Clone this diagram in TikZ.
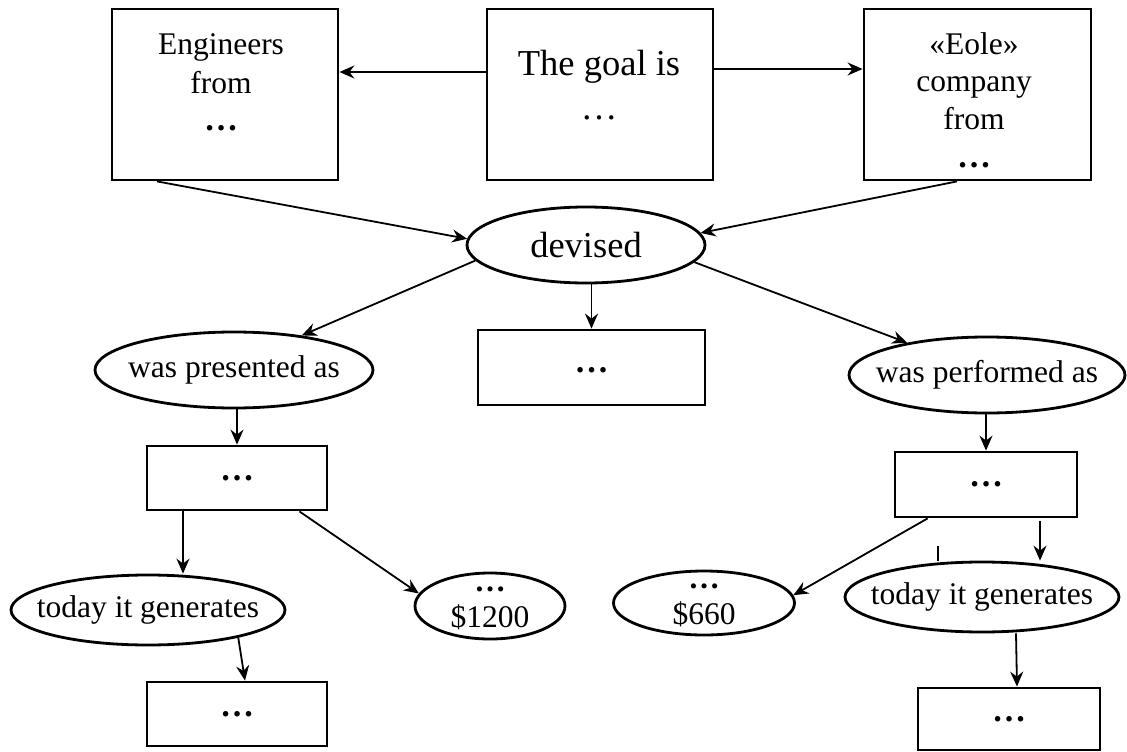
\documentclass[tikz,border=0pt]{standalone}
\usepackage{fontspec}
\setmainfont{Liberation Serif}
\usetikzlibrary{shapes.geometric,arrows.meta,calc}
\begin{document}
\begin{tikzpicture}[x=1pt,y=-1pt,
  every node/.style={font=\fontsize{31.5}{36}\selectfont},
  rbox/.style={draw, line width=2.8pt, rectangle, inner sep=0pt},
  ell/.style={draw, line width=2.8pt, ellipse, inner sep=0pt},
  arr/.style={line width=1.8pt, -{Stealth[length=15pt,width=13pt,inset=5pt]}},
  tickline/.style={line width=1.8pt},
  lbl/.style={anchor=base, inner sep=0pt},
  big/.style={font=\fontsize{36.5}{40}\selectfont},
  dots/.style={font=\fontsize{34}{36}\selectfont\bfseries},
  two/.style={align=center, inner sep=0pt}
]
\useasboundingbox (0,0) rectangle (1127,752);

% top boxes
\node[rbox, minimum width=226pt, minimum height=171pt] (eng) at (225,94.5) {};
\node[rbox, minimum width=226pt, minimum height=171pt] (goal) at (600,94.5) {};
\node[rbox, minimum width=227pt, minimum height=171pt] (eole) at (977.5,94.5) {};

\node[lbl] (engA) at (221,55) {Engineers};
\node[lbl] (engB) at (221,93) {from};
\node[lbl,dots] (engC) at (221,130) {…};

\node[lbl,big] (goalA) at (599,75) {The goal is};
\node[lbl,big] (goalB) at (599,119) {…};

\node[lbl] (eoleA) at (974,55) {«Eole»};
\node[lbl] (eoleB) at (974,92) {company};
\node[lbl] (eoleC) at (974,129) {from};
\node[lbl,dots] (eoleD) at (974,167) {…};

% devised
\node[ell, minimum width=238pt, minimum height=76pt] (dev) at (586,245) {};
\node[big] (devT) at (dev) {devised};

% second row
\node[ell, minimum width=278pt, minimum height=76pt] (pres) at (234,370) {};
\node (presT) at (pres) {was presented as};
\node[rbox, minimum width=227pt, minimum height=75pt] (ctr) at (591.5,367.5) {};
\node[dots] (ctrT) at ([yshift=-3pt]ctr.center) {…};
\node[ell, minimum width=276pt, minimum height=76pt] (perf) at (987,375) {};
\node (perfT) at (perf) {was performed as};

% third row
\node[rbox, minimum width=180pt, minimum height=64pt] (lbox) at (237,478) {};
\node[dots] (lboxT) at (lbox) {…};
\node[rbox, minimum width=182pt, minimum height=65pt] (rbox) at (986,484.5) {};
\node[dots] (rboxT) at (rbox) {…};

% fourth row
\node[ell, minimum width=274pt, minimum height=70pt] (todayL) at (148,610) {};
\node (todayLT) at (todayL) {today it generates};
\node[ell, minimum width=150pt, minimum height=66pt] (d1200) at (490,606) {};
\node[two] (d1200T) at ([yshift=-2pt]d1200.center) {\textbf{…}\\\$1200};
\node[ell, minimum width=181pt, minimum height=64pt] (d660) at (704,603) {};
\node[two] (d660T) at ([yshift=-2pt]d660.center) {\textbf{…}\\\$660};
\node[ell, minimum width=274pt, minimum height=70pt] (todayR) at (982,597) {};
\node (todayRT) at (todayR) {today it generates};

% bottom boxes
\node[rbox, minimum width=180pt, minimum height=64pt] (blbox) at (237,714) {};
\node[dots] (blboxT) at (blbox) {…};
\node[rbox, minimum width=182pt, minimum height=62pt] (brbox) at (1009,719) {};
\node[dots] (brboxT) at (brbox) {…};

% connectors
\draw[arr] ([yshift=22.5pt]goal.west) -- ([yshift=22.5pt]eng.east);
\draw[arr] ([yshift=25.5pt]goal.east) -- ([yshift=25.5pt]eole.west);
\draw[arr] ([xshift=-68pt]eng.south) -- (dev.177);
\draw[arr] ([xshift=-20.5pt]eole.south) -- (dev.6);
\draw[arr] (dev.188) -- (pres.27);
\draw[arr] (dev.south -| ctr.north) -- (ctr.north);
\draw[arr] (dev.-9) -- (perf.158);
\draw[arr] (pres.south -| lbox.north) -- (lbox.north);
\draw[arr] (perf.south -| rbox.north) -- (rbox.north);
\draw[arr] ([xshift=-54pt]lbox.south) -- ([xshift=-54pt]lbox.south |- todayL.north);
\draw[arr] ([xshift=-29pt]lbox.south east) -- (d1200.170);
\draw[arr] (todayL.-17) -- ([xshift=8pt]blbox.north);
\draw[arr] ([xshift=34pt]rbox.south west) -- (d660.5);
\draw[arr] ([xshift=54pt,yshift=-3pt]rbox.south) -- ([xshift=54pt]rbox.south |- todayR.north);
\coordinate (tk) at (938,546);
\draw[tickline] (tk) -- (tk |- todayR.north);
\draw[arr] ([xshift=34pt]todayR.south) -- ([xshift=8pt]brbox.north);
\end{tikzpicture}
\end{document}
